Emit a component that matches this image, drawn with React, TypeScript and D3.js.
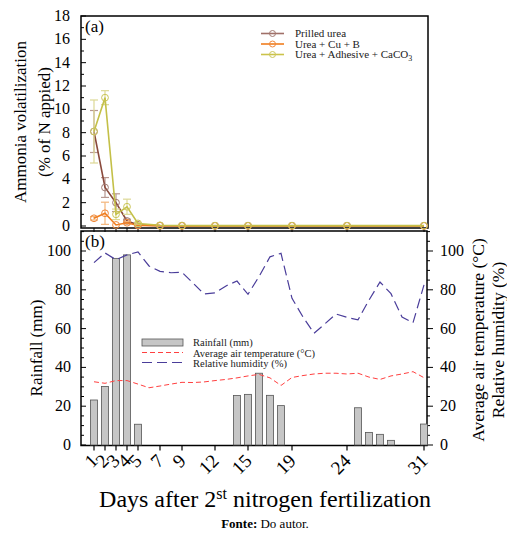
import React from 'react';
import * as d3 from 'd3';

// Panel (a): ammonia volatilization, sampled days
const sampleDays = [1, 2, 3, 4, 5, 7, 9, 12, 15, 19, 24, 31];
const prilled = [8.1, 3.3, 2.0, 0.43, 0.1, 0.03, 0.02, 0.02, 0.02, 0.02, 0.02, 0.02];
const prilledErr = [1.8, 0.85, 0.76, 0.15, 0.05, 0, 0, 0, 0, 0, 0, 0];
const cuB = [0.66, 1.09, 0.09, 0.28, 0.05, 0.02, 0.01, 0.01, 0.01, 0.01, 0.01, 0.01];
const cuBErr = [0.15, 0.95, 0.05, 0.1, 0.03, 0, 0, 0, 0, 0, 0, 0];
const adhesive = [8.1, 11.0, 1.0, 1.65, 0.22, 0.06, 0.04, 0.03, 0.03, 0.03, 0.03, 0.03];
const adhesiveErr = [2.7, 0.6, 0.45, 0.65, 0.06, 0, 0, 0, 0, 0, 0, 0];

// Panel (b): weather
const rainDays = [1, 2, 3, 4, 5, 14, 15, 16, 17, 18, 25, 26, 27, 28, 31];
const rainfall = [23.2, 30.2, 96.2, 98, 10.7, 25.5, 26.1, 37, 25.6, 20.3, 19.2, 6.5, 5.5, 2.4, 10.8];
const weatherDays = d3.range(1, 32);
const temperature = [32.6, 31.8, 33.2, 33.2, 31.4, 29.5, 30.4, 31.4, 32.3, 32.2, 32.5, 33.2, 33.8, 34.6, 35.6,
  36.4, 34.6, 30.7, 34.8, 35.8, 36.6, 37, 37, 36.6, 37, 35, 33.8, 35.6, 36.6, 37.8, 34.7];
const humidity = [94, 99, 95.5, 98, 99.5, 92.3, 89.5, 88.8, 89, 83.5, 77.8, 78.4, 82, 84.5, 77.7,
  86.8, 97, 98.8, 75.6, 66, 57.6, 62.5, 67.5, 65.8, 64.5, 74.7, 84, 78, 66, 63, 82.5];

const topTicks = d3.range(0, 19, 2);
const rainTicks = d3.range(0, 101, 20);

const FONT = 'Liberation Serif';

const series = [
  { name: 'Prilled urea', values: prilled, err: prilledErr, line: '#8a4a3c', marker: '#a27a72', errColor: '#b89890', legend: '#a07068' },
  { name: 'Urea + Cu + B', values: cuB, err: cuBErr, line: '#f07d1e', marker: '#f0883a', errColor: '#f3b57a', legend: '#f07d1e' },
  { name: 'Urea + Adhesive + CaCO', values: adhesive, err: adhesiveErr, line: '#c4c048', marker: '#cbc65a', errColor: '#dcd895', legend: '#cbc34a' },
];

// text with the serif font forced on the element itself
const T = (props: any) => <text {...props} style={{ fontFamily: FONT }} />;

export default function App() {
  const left = 81;
  const right = 428;
  const x = d3.scaleLinear().domain([0, 31]).range([83, 424]);
  const yTop = d3.scaleLinear().domain([0, 18]).range([226, 16]);
  const yBot = d3.scaleLinear().domain([0, 100]).range([445, 251]);
  const topBottom = 228;
  const botTop = 231;
  const botBottom = 445.5;

  const lineTop = d3.line<number>().x((_, i) => x(sampleDays[i])).y(d => yTop(d));
  const lineW = d3.line<number>().x((_, i) => x(weatherDays[i])).y(d => yBot(d));

  const topMinor = d3.range(0, 18.01, 1);
  const botMinor = d3.range(0, 110.1, 5);

  return (
    <svg width={507} height={536} style={{ position: 'absolute', left: 0, top: 0, background: '#fff' }}>
      {/* ---------- panel (a) ---------- */}
      <rect x={left} y={16} width={right - left} height={topBottom - 16} fill="none" stroke="#000" strokeWidth={1.5} />
      {topMinor.map(v => (
        <line key={'tm' + v} x1={left} x2={left + (v % 2 === 0 ? 5 : 3)} y1={yTop(v)} y2={yTop(v)} stroke="#000" strokeWidth={1} />
      ))}
      {topTicks.map(v => (
        <T key={'tt' + v} x={70} y={yTop(v) + 5} textAnchor="end" fontSize={16}>{v}</T>
      ))}
      {sampleDays.map(d => (
        <line key={'tx' + d} x1={x(d)} x2={x(d)} y1={topBottom} y2={topBottom + 4} stroke="#000" strokeWidth={1} />
      ))}
      <T x={85} y={32} fontSize={17}>(a)</T>
      <T transform="translate(26,122) rotate(-90)" textAnchor="middle" fontSize={17}>Ammonia volatilization</T>
      <T transform="translate(50,122) rotate(-90)" textAnchor="middle" fontSize={17}>(% of N appied)</T>

      {series.map(s => (
        <g key={s.name}>
          {s.values.map((v, i) => s.err[i] > 0.05 ? (
            <g key={i} stroke={s.errColor} strokeWidth={1.2}>
              <line x1={x(sampleDays[i])} x2={x(sampleDays[i])} y1={yTop(v - s.err[i])} y2={yTop(v + s.err[i])} />
              <line x1={x(sampleDays[i]) - 4} x2={x(sampleDays[i]) + 4} y1={yTop(v - s.err[i])} y2={yTop(v - s.err[i])} />
              <line x1={x(sampleDays[i]) - 4} x2={x(sampleDays[i]) + 4} y1={yTop(v + s.err[i])} y2={yTop(v + s.err[i])} />
            </g>
          ) : null)}
          <path d={lineTop(s.values) ?? ''} fill="none" stroke={s.line} strokeWidth={1.6} />
          {s.values.map((v, i) => (
            <circle key={'c' + i} cx={x(sampleDays[i])} cy={yTop(v)} r={3.4} fill="none" stroke={s.marker} strokeWidth={1} />
          ))}
        </g>
      ))}

      {/* legend (a) */}
      {series.map((s, i) => (
        <g key={'lg' + i} transform={`translate(0,${33.5 + i * 10.5})`}>
          <line x1={261} x2={284} y1={0} y2={0} stroke={s.legend} strokeWidth={1.6} />
          <circle cx={272.5} cy={0} r={3} fill="none" stroke={s.marker} strokeWidth={1} />
          <T x={295} y={3.5} fontSize={11} fill="#222">
            {s.name}
            {i === 2 ? <tspan fontSize={8} dy={3}>3</tspan> : null}
          </T>
        </g>
      ))}

      {/* ---------- panel (b) ---------- */}
      <rect x={left} y={botTop} width={right - 1 - left} height={botBottom - botTop} fill="none" stroke="#000" strokeWidth={1.5} />
      {botMinor.map(v => (
        <g key={'bm' + v}>
          <line x1={left} x2={left + (v % 20 === 0 ? 5 : 3)} y1={yBot(v)} y2={yBot(v)} stroke="#000" strokeWidth={1} />
          <line x1={right - 1} x2={right - 1 + (v % 20 === 0 ? 6 : 3)} y1={yBot(v)} y2={yBot(v)} stroke="#000" strokeWidth={1} />
        </g>
      ))}
      {rainTicks.map(v => (
        <g key={'bt' + v}>
          <T x={71} y={yBot(v) + 5} textAnchor="end" fontSize={16}>{v}</T>
          <T x={440} y={yBot(v) + 5} textAnchor="start" fontSize={16}>{v}</T>
        </g>
      ))}
      <T x={85} y={247} fontSize={17}>(b)</T>
      <T transform="translate(42,348) rotate(-90)" textAnchor="middle" fontSize={17}>Rainfall (mm)</T>
      <T transform="translate(484,340) rotate(-90)" textAnchor="middle" fontSize={17.5}>Average air temperature (°C)</T>
      <T transform="translate(504,340) rotate(-90)" textAnchor="middle" fontSize={17.5}>Relative humidity (%)</T>

      {rainfall.map((v, i) => (
        <rect key={'r' + i} x={x(rainDays[i]) - 3.5} y={yBot(v)} width={7} height={yBot(0) - yBot(v)}
          fill="#c6c6c6" stroke="#555" strokeWidth={0.8} />
      ))}
      <path d={lineW(temperature) ?? ''} fill="none" stroke="#ff4040" strokeWidth={1} strokeDasharray="5,3" />
      <path d={lineW(humidity) ?? ''} fill="none" stroke="#4a3d9a" strokeWidth={1.2} strokeDasharray="10,5" />

      {sampleDays.map(d => (
        <g key={'bx' + d}>
          <line x1={x(d)} x2={x(d)} y1={botBottom} y2={botBottom + 5} stroke="#000" strokeWidth={1.2} />
          <T transform={`translate(${x(d) + 5},${462}) rotate(-45)`} textAnchor="end" fontSize={19}>{d}</T>
        </g>
      ))}

      {/* legend (b) */}
      <rect x={142} y={339} width={41} height={7} fill="#c6c6c6" stroke="#555" strokeWidth={0.8} />
      <T x={193} y={346} fontSize={10.5} fill="#222">Rainfall (mm)</T>
      <line x1={142} x2={183} y1={352.5} y2={352.5} stroke="#ff4040" strokeWidth={1} strokeDasharray="5,3" />
      <T x={193} y={356.5} fontSize={10.5} fill="#222">Average air temperature (°C)</T>
      <line x1={142} x2={183} y1={362.5} y2={362.5} stroke="#4a3d9a" strokeWidth={1.2} strokeDasharray="10,5" />
      <T x={193} y={367} fontSize={10.5} fill="#222">Relative humidity (%)</T>

      <T x={265} y={507} textAnchor="middle" fontSize={24}>
        Days after 2<tspan fontSize={16} dy={-8}>st</tspan><tspan dy={8}> nitrogen fertilization</tspan>
      </T>
      <T x={265} y={528} textAnchor="middle" fontSize={13}>
        <tspan fontWeight="bold">Fonte:</tspan> Do autor.
      </T>
    </svg>
  );
}
